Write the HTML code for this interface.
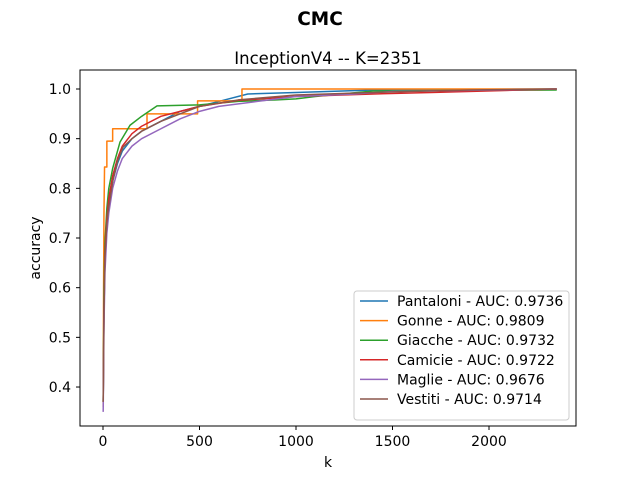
<!DOCTYPE html>
<html><head><meta charset="utf-8"><style>
body{margin:0;background:#fff}
svg{font-family:"DejaVu Sans","Liberation Sans",sans-serif}
</style></head><body>
<svg id="chart" width="640" height="480" viewBox="0 0 640 480">
<text x="320" y="25" text-anchor="middle" font-size="18.5" font-weight="bold">CMC</text>
<text x="328" y="64" text-anchor="middle" font-size="16.5">InceptionV4 -- K=2351</text>
<g id="plot"></g>
<rect x="80" y="70" width="496" height="356" fill="none" stroke="#000" stroke-width="1"/>
<g id="xt"></g><g id="yt"></g>
<text x="328" y="467" text-anchor="middle" font-size="14">k</text>
<text transform="translate(40,248) rotate(-90)" text-anchor="middle" font-size="14">accuracy</text>
<g id="legend"></g>
</svg>
<script>
const names=["Pantaloni - AUC: 0.9736","Gonne - AUC: 0.9809","Giacche - AUC: 0.9732","Camicie - AUC: 0.9722","Maglie - AUC: 0.9676","Vestiti - AUC: 0.9714"];
const colors=["#1f77b4","#ff7f0e","#2ca02c","#d62728","#9467bd","#8c564b"];
const xTicks=[0,500,1000,1500,2000];
const yTicks=[0.4,0.5,0.6,0.7,0.8,0.9,1.0];
const kPant=[1,5,10,20,30,50,75,100,150,200,300,400,500,600,750,1000,1400,2351];
const aPant=[0.37,0.55,0.66,0.73,0.77,0.815,0.85,0.875,0.9,0.915,0.935,0.955,0.965,0.975,0.99,0.993,0.998,1.0];
const kGonne=[1,3,5,8,20,20,50,50,228,228,490,490,720,720,2351];
const aGonne=[0.36,0.6,0.75,0.843,0.843,0.895,0.895,0.92,0.92,0.95,0.95,0.976,0.976,1.0,1.0];
const kGiac=[1,5,10,20,30,50,88,140,200,280,500,700,900,1000,1100,1400,2351];
const aGiac=[0.37,0.6,0.69,0.76,0.8,0.84,0.893,0.927,0.945,0.966,0.968,0.975,0.978,0.98,0.985,0.996,0.998];
const kCam=[1,5,10,20,30,50,75,100,150,200,300,400,500,700,1000,1400,1700,2351];
const aCam=[0.37,0.56,0.67,0.74,0.78,0.825,0.86,0.885,0.91,0.925,0.945,0.955,0.965,0.977,0.985,0.99,0.993,1.0];
const kMag=[1,5,10,20,30,50,75,100,150,200,300,400,500,600,800,1000,1300,1500,2351];
const aMag=[0.35,0.52,0.63,0.71,0.75,0.8,0.835,0.86,0.885,0.9,0.92,0.94,0.955,0.965,0.975,0.985,0.99,0.995,1.0];
const kVest=[1,5,10,20,27,52,75,104,150,200,300,400,500,700,1000,1400,1900,2351];
const aVest=[0.37,0.55,0.66,0.73,0.756,0.817,0.855,0.883,0.9,0.915,0.935,0.95,0.965,0.978,0.988,0.993,0.998,1.0];
const series=[[kPant,aPant],[kGonne,aGonne],[kGiac,aGiac],[kCam,aCam],[kMag,aMag],[kVest,aVest]];
const NS="http://www.w3.org/2000/svg";
const X=k=>103+k*0.193, Y=a=>89+(1-a)*496.7;
const plot=document.getElementById('plot');
series.forEach((s,i)=>{
  let pts=[];
  for(let j=0;j<s[0].length;j++){
    pts.push(X(s[0][j]).toFixed(2)+","+Y(s[1][j]).toFixed(2));
  }
  const p=document.createElementNS(NS,'polyline');
  p.setAttribute('points',pts.join(' '));
  p.setAttribute('fill','none');p.setAttribute('stroke',colors[i]);p.setAttribute('stroke-width','1.5');
  p.setAttribute('stroke-linejoin','round');
  
  
  plot.appendChild(p);
});
const xt=document.getElementById('xt');
xTicks.forEach(t=>{
  const l=document.createElementNS(NS,'line');
  l.setAttribute('x1',X(t));l.setAttribute('x2',X(t));l.setAttribute('y1',426);l.setAttribute('y2',430);l.setAttribute('stroke','#000');
  
  
  xt.appendChild(l);
  const tx=document.createElementNS(NS,'text');
  tx.setAttribute('x',X(t));tx.setAttribute('y',446);tx.setAttribute('text-anchor','middle');tx.setAttribute('font-size','14');
  tx.textContent=t;
  
  
  xt.appendChild(tx);
});
const yt=document.getElementById('yt');
yTicks.forEach(t=>{
  const l=document.createElementNS(NS,'line');
  l.setAttribute('x1',76);l.setAttribute('x2',80);l.setAttribute('y1',Y(t));l.setAttribute('y2',Y(t));l.setAttribute('stroke','#000');
  
  
  yt.appendChild(l);
  const tx=document.createElementNS(NS,'text');
  tx.setAttribute('x',71);tx.setAttribute('y',Y(t)+5);tx.setAttribute('text-anchor','end');tx.setAttribute('font-size','14');
  tx.textContent=t.toFixed(1);
  
  
  yt.appendChild(tx);
});
const lg=document.getElementById('legend');
const box=document.createElementNS(NS,'rect');
box.setAttribute('x',354);box.setAttribute('y',291);box.setAttribute('width',215);box.setAttribute('height',129);
box.setAttribute('rx',3);box.setAttribute('fill','#fff');box.setAttribute('fill-opacity','0.8');box.setAttribute('stroke','#ccc');


lg.appendChild(box);
names.forEach((n,i)=>{
  const y=301+i*19.6;
  const l=document.createElementNS(NS,'line');
  l.setAttribute('x1',360);l.setAttribute('x2',388);l.setAttribute('y1',y);l.setAttribute('y2',y);
  l.setAttribute('stroke',colors[i]);l.setAttribute('stroke-width','1.5');
  
  
  lg.appendChild(l);
  const t=document.createElementNS(NS,'text');
  t.setAttribute('x',397);t.setAttribute('y',y+5);t.setAttribute('font-size','14');t.textContent=n;
  
  
  lg.appendChild(t);
});
</script>
</body></html>
